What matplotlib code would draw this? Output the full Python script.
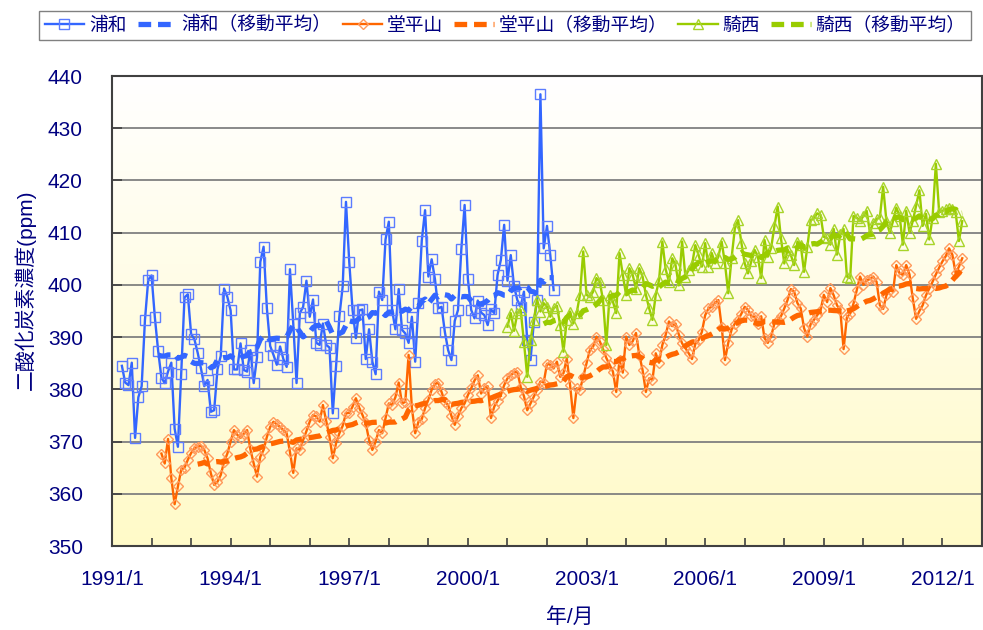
import numpy as np
import pandas as pd
import matplotlib
matplotlib.use('Agg')
import matplotlib.pyplot as plt
from matplotlib.colors import LinearSegmentedColormap
from matplotlib.ticker import FixedLocator

# monthly CO2 (ppm) per station, first month given as (year, month)
urawa_start = (1991, 4)
urawa = [
    384.5, 381.3, 380.8, 385.1, 370.7, 378.5, 380.6, 393.3, 401.0, 401.8,
    393.8, 387.4, 382.2, 381.2, 383.4, 385.1, 372.5, 369.0, 383.0, 397.6,
    398.2, 390.6, 389.6, 387.0, 384.0, 380.6, 381.8, 375.7, 376.0, 383.8,
    386.4, 399.3, 397.7, 395.1, 383.8, 383.8, 388.8, 383.7, 383.4, 387.5,
    381.2, 386.1, 404.4, 407.3, 395.5, 388.3, 386.6, 384.7, 388.2, 385.8,
    384.3, 403.0, 392.6, 381.2, 394.6, 395.8, 400.8, 393.9, 397.2, 388.9,
    388.5, 392.6, 388.5, 388.0, 375.4, 384.5, 394.0, 399.7, 415.9, 404.3,
    395.2, 389.8, 395.1, 395.3, 385.8, 391.5, 385.3, 382.9, 398.7, 397.1,
    408.7, 412.1, 395.1, 391.5, 399.2, 391.4, 390.7, 388.9, 393.9, 385.3,
    396.5, 408.5, 414.3, 401.6, 404.9, 401.1, 395.5, 395.8, 391.0, 387.5,
    385.6, 393.1, 395.2, 406.8, 415.3, 401.1, 395.2, 393.6, 397.0, 394.7,
    394.2, 392.3, 395.3, 394.6, 401.9, 404.8, 411.5, 400.8, 405.7, 399.7,
    397.1, 395.8, 398.7, 389.4, 385.6, 392.8, 397.1, 436.5, 407.0, 411.3,
    405.7, 399.0,
]

dodaira_start = (1992, 4)
dodaira = [
    367.7, 365.8, 370.5, 363.0, 358.0, 361.4, 364.6, 365.0, 366.5, 367.8,
    368.7, 369.0, 369.2, 368.4, 366.8, 363.9, 361.7, 362.3, 363.6, 366.1,
    367.7, 370.0, 372.2, 371.3, 370.7, 371.5, 372.2, 368.5, 365.8, 363.3,
    367.1, 368.4, 370.9, 372.8, 373.8, 373.3, 372.8, 372.2, 371.6, 368.0,
    364.0, 368.7, 368.4, 370.3, 372.0, 373.8, 375.1, 374.8, 373.8, 377.0,
    374.0, 370.9, 366.8, 369.7, 371.6, 373.0, 375.4, 375.5, 376.7, 378.3,
    376.5, 375.1, 373.5, 370.3, 368.4, 370.0, 372.2, 371.6, 374.5, 377.3,
    377.0, 378.5,
    381.3, 377.3, 377.6, 386.6, 376.4, 371.6, 373.8, 374.3, 376.4, 378.0,
    379.9, 381.0, 381.3, 379.5, 377.6, 377.0, 374.9, 373.2, 374.8, 376.4,
    377.3, 378.9, 380.2, 381.7, 382.7, 379.2, 380.2, 380.6, 374.5, 376.7,
    377.8, 378.9, 380.8, 382.1, 382.7, 383.2, 383.4, 380.5, 378.7, 376.0,
    377.3, 378.6, 379.9, 381.5, 381.3, 384.9,
    384.7, 384.0, 385.3, 382.4, 383.1, 385.9, 380.8, 374.5, 380.2, 379.9,
    382.4, 385.0, 387.5, 388.2, 390.1, 389.2, 387.7, 386.0, 384.7, 383.4,
    379.5, 385.6, 383.2, 390.1, 388.5, 389.2, 390.8, 386.6, 383.7, 379.5,
    382.1, 381.8, 386.9, 385.1, 388.5, 390.4, 393.0, 392.1, 392.6, 390.5,
    388.8, 387.9,
    386.9, 385.8, 388.7, 389.4, 391.0, 394.2, 395.5, 395.8, 396.6, 397.1,
    392.0, 385.6, 388.9, 391.4, 392.6, 393.3, 394.5, 395.8, 395.2, 394.0,
    393.9, 392.6, 394.0, 389.8, 388.9, 390.1, 392.6, 393.3, 394.0, 395.5,
    397.1, 399.2, 398.7, 396.5, 395.5, 391.7, 390.1, 392.5, 393.3, 394.2,
    395.1, 398.1,
    396.7, 399.4, 398.0, 396.1, 395.1, 387.7, 393.8, 394.5, 396.4, 399.0,
    401.6, 400.0, 400.9, 401.1, 401.6, 400.6, 396.1, 395.4, 398.0, 399.0,
    398.7, 403.8, 402.2, 401.9, 403.8, 402.0, 397.4, 393.5, 395.0, 396.1,
    398.0, 399.3, 400.6, 402.0, 403.3, 404.5, 405.5, 407.0, 405.8, 402.2,
    403.5, 405.1,
]

kisai_start = (2001, 1)
kisai = [
    392.0, 394.6, 391.2, 394.6, 395.2, 389.1, 382.4, 389.4, 393.3, 397.1,
    394.9, 396.5, 395.8, 393.9, 395.5, 396.0, 392.3, 387.2, 393.3, 394.9,
    392.6, 394.6, 398.1, 406.4, 398.1, 397.7, 398.7, 401.3, 400.6, 397.1,
    388.5, 398.1, 396.8, 394.6, 406.1, 401.9, 398.1, 403.2, 401.9, 399.3,
    403.2, 401.6, 398.1, 395.5, 393.3, 398.1, 400.9, 408.3, 403.0, 400.6,
    405.1, 403.8, 399.9, 408.3, 401.6, 402.9, 403.8, 407.6, 405.7, 403.5,
    408.0, 403.5, 406.1, 404.1, 405.4, 408.3, 404.1, 398.4, 405.1, 410.8,
    412.4, 408.0, 404.1, 402.2, 404.5, 406.7, 405.4, 401.3, 408.6, 405.4,
    407.0, 411.2, 415.0, 408.9, 404.1, 406.7, 405.7, 403.8, 408.3, 407.6,
    402.5, 407.3, 412.4, 412.7, 413.7, 413.4, 409.2, 409.0, 407.7, 410.7,
    405.8, 409.7, 410.7, 401.6, 401.3, 413.2, 412.9, 412.2, 413.2, 414.2,
    410.0, 411.9, 412.6, 412.9, 418.8, 412.2, 410.0, 412.2, 414.8, 413.2,
    407.7, 414.2, 410.0, 412.2, 415.2, 418.1, 411.3, 413.6, 408.7, 412.9,
    423.2, 413.9, 414.2, 414.5, 414.8, 414.5, 413.9, 408.4, 412.2,
]

stations = ['浦和', '堂平山', '騎西']
ma_suffix = '（移動平均）'
tick_years = list(range(1991, 2014))
label_years = list(range(1991, 2013, 3))

navy = '#000080'


def month_axis(start, n):
    y, m = start
    return y + (m - 1 + np.arange(n)) / 12.0


series = [
    (urawa_start, urawa, '#3366FF', '#5C7CFF', 's', 6.5),
    (dodaira_start, dodaira, '#FF6600', '#FF9A5C', 'D', 5.5),
    (kisai_start, kisai, '#99CC00', '#A8D42A', '^', 7.0),
]

plt.rcParams['font.family'] = ['Liberation Sans', 'Noto Sans CJK JP']

fig = plt.figure(figsize=(9.83, 6.3), dpi=100)
ax = fig.add_axes([112 / 983, 84 / 630, 870 / 983, 470 / 630])

# pale yellow gradient behind the plot
grad = LinearSegmentedColormap.from_list('bg', ['#FFFFFF', '#FFFAC8'])
ax.imshow(np.linspace(0, 1, 256)[:, None], extent=[1991, 2013, 350, 440],
          cmap=grad, aspect='auto', origin='upper', zorder=0)

handles = []
for (start, vals, col, edge, mk, ms), name in zip(series, stations):
    x = month_axis(start, len(vals))
    ma = pd.Series(vals).rolling(12).mean()
    h1, = ax.plot(x, vals, color=col, lw=1.7, marker=mk, ms=ms, mfc='none',
                  mec=edge, mew=1.0, label=name, zorder=3)
    h2, = ax.plot(x, ma, color=col, lw=3.8, ls=(0, (2.4, 1.3)),
                  label=name + ma_suffix, zorder=4)
    handles += [h1, h2]

ax.set_xlim(1991, 2013)
ax.set_ylim(350, 440)
ax.set_yticks(np.arange(350, 441, 10))
ax.xaxis.set_major_locator(FixedLocator(tick_years))
ax.set_xticklabels([f'{y}/1' if y in label_years else '' for y in tick_years])

ax.yaxis.grid(True, color='#808080', lw=1.3)
ax.set_axisbelow(True)
for s in ax.spines.values():
    s.set_color('#404040')
    s.set_linewidth(1.5)

ax.tick_params(axis='both', direction='in', color='#404040', width=1.2,
               labelcolor=navy, labelsize=15)
ax.tick_params(axis='y', length=7, pad=21)
ax.tick_params(axis='x', length=6, pad=17)

fig.text(25 / 983, 0.54, '二酸化炭素濃度(ppm)', rotation=90, ha='center',
         va='center', fontsize=15, color=navy)
fig.text(570 / 983, 1 - 617 / 630, '年/月', ha='center', va='center',
         fontsize=15, color=navy)

leg = fig.legend(handles=handles, loc='center',
                 bbox_to_anchor=(505 / 983, 1 - 25.5 / 630), ncol=6,
                 fancybox=False, edgecolor='#808080', framealpha=1,
                 fontsize=13.5, labelcolor=navy, handlelength=2.1,
                 handletextpad=0.25, columnspacing=0.6, borderpad=0.3)
leg.get_frame().set_linewidth(1.0)

fig.savefig('out.png', dpi=100)
